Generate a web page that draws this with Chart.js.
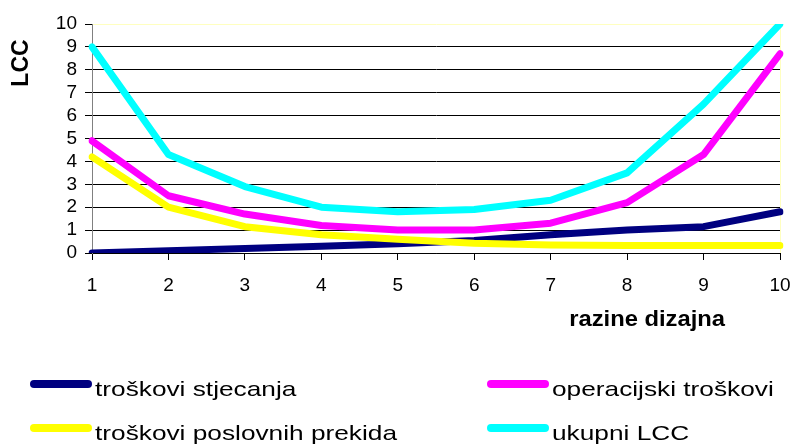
<!DOCTYPE html>
<html>
<head>
<meta charset="utf-8">
<script src="https://cdn.jsdelivr.net/npm/chart.js@4.4.1/dist/chart.umd.min.js"></script>
<style>
  body { margin: 0; background: #fff; }
  #wrap { position: relative; width: 792px; height: 444px; }
  .swatch { position: absolute; width: 62px; height: 8px; border-radius: 4px; }
  .txt { position: absolute; font-family: "Liberation Sans", Arial, sans-serif; font-size: 21px;
         line-height: 21px; color: #000; white-space: nowrap;
         transform: scaleX(1.25); transform-origin: left center; }
</style>
</head>
<body>
<div id="wrap">
  <canvas id="myChart" width="792" height="444"></canvas>
  <div id="legend"></div>
</div>
<script>
// razine dizajna 1..10
const labels = ['1', '2', '3', '4', '5', '6', '7', '8', '9', '10'];
const seriesNames = ['troškovi stjecanja', 'operacijski troškovi', 'troškovi poslovnih prekida', 'ukupni LCC'];
const acquisition = [0, 0.1, 0.2, 0.3, 0.4, 0.55, 0.8, 1.0, 1.15, 1.8];
const operating = [4.9, 2.5, 1.7, 1.2, 1.0, 1.0, 1.3, 2.2, 4.3, 8.7];
const interruption = [4.2, 2.0, 1.15, 0.8, 0.6, 0.43, 0.35, 0.33, 0.33, 0.33];
const totalLcc = [9.0, 4.3, 2.9, 2.0, 1.8, 1.9, 2.3, 3.5, 6.5, 10.0];
const yTicks = [0, 1, 2, 3, 4, 5, 6, 7, 8, 9, 10];
const xTitle = 'razine dizajna';
const yTitle = 'LCC';

const colors = ['#000080', '#ff00ff', '#ffff00', '#00ffff'];
const values = [acquisition, operating, interruption, totalLcc];
const font = '"Liberation Sans", Arial, sans-serif';

// axis titles drawn by hand so they sit where the original puts them
const titlePlugin = {
  id: 'titles',
  afterDraw(chart) {
    const { ctx, chartArea } = chart;
    ctx.save();
    ctx.fillStyle = '#000';
    ctx.font = 'bold 22px ' + font;
    ctx.textBaseline = 'alphabetic';
    ctx.textAlign = 'right';
    ctx.save();
    ctx.translate(chartArea.right - 55, 326);
    ctx.scale(1.08, 1);
    ctx.fillText(xTitle, 0, 0);
    ctx.restore();
    ctx.font = 'bold 23px ' + font;
    ctx.textBaseline = 'middle';
    ctx.translate(22, 63);
    ctx.rotate(-Math.PI / 2);
    ctx.textAlign = 'center';
    ctx.fillText(yTitle, 0, 0);
    ctx.restore();
  }
};

const datasets = seriesNames.map((name, i) => ({
  label: name,
  data: values[i],
  borderColor: colors[i],
  backgroundColor: colors[i],
  borderWidth: 7,
  borderCapStyle: 'round',
  borderJoinStyle: 'round',
  pointRadius: 0,
  tension: 0,
  order: 4 - i
}));

const ctx = document.getElementById('myChart').getContext('2d');
const chart = new Chart(ctx, {
  type: 'line',
  data: { labels: labels, datasets: datasets },
  options: {
    responsive: false,
    animation: false,
    layout: { padding: { left: 0, right: 12, top: 24, bottom: 151 } },
    plugins: { legend: { display: false }, tooltip: { enabled: false } },
    scales: {
      x: {
        offset: false,
        afterFit: s => { s.height = 40; s.paddingRight = 0; s.paddingLeft = 0; },
        grid: {
          color: c => c.index === labels.length - 1 ? '#ffffc0' : 'rgba(0,0,0,0)',
          tickColor: '#000',
          tickLength: 7
        },
        border: { color: '#000' },
        ticks: { color: '#000', font: { family: font, size: 19 }, padding: 14, maxRotation: 0, autoSkip: false }
      },
      y: {
        min: 0,
        max: 10,
        afterFit: s => { s.width = 92; },
        afterBuildTicks: s => { s.ticks = yTicks.map(v => ({ value: v })); },
        grid: {
          color: c => c.tick && c.tick.value === 10 ? '#ffffc0' : '#000',
          tickColor: '#000',
          tickLength: 7
        },
        border: { color: '#808080' },
        ticks: { color: '#000', font: { family: font, size: 19 }, padding: 8, autoSkip: false }
      }
    }
  },
  plugins: [titlePlugin]
});

// legend, two columns like the original
const legendPos = [[30, 384], [487, 384], [30, 428], [487, 428]];
const legend = document.getElementById('legend');
datasets.forEach((d, i) => {
  const sw = document.createElement('div');
  sw.className = 'swatch';
  sw.style.left = legendPos[i][0] + 'px';
  sw.style.top = (legendPos[i][1] - 4) + 'px';
  sw.style.background = d.borderColor;
  const tx = document.createElement('div');
  tx.className = 'txt';
  tx.style.left = (legendPos[i][0] + 65) + 'px';
  tx.style.top = (legendPos[i][1] - 6) + 'px';
  tx.textContent = d.label;
  legend.appendChild(sw);
  legend.appendChild(tx);
});
</script>
</body>
</html>
